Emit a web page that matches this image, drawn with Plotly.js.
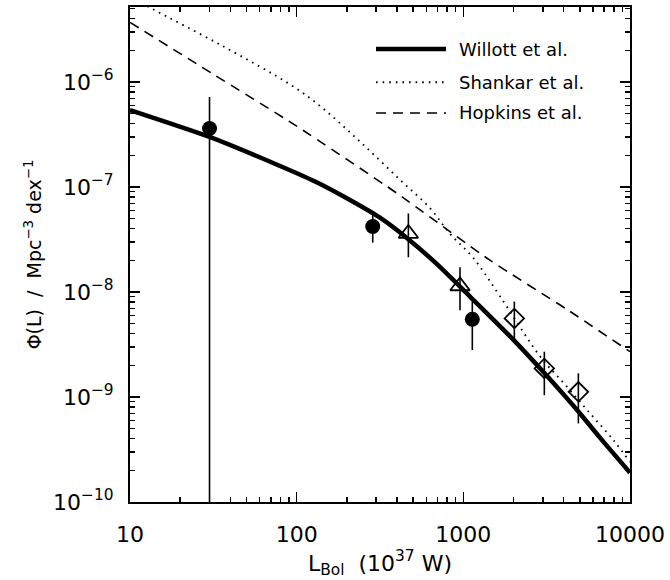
<!DOCTYPE html>
<html>
<head>
<meta charset="utf-8">
<script src="https://cdn.plot.ly/plotly-3.0.1.min.js"></script>
<style>
  html, body { margin: 0; padding: 0; background: #fff; }
  #chart { width: 670px; height: 580px; }
</style>
</head>
<body>
<div id="chart"></div>
<script>
// Bolometric luminosity function: model curves
var willottL   = [10, 30, 77, 130, 200, 316, 466, 700, 1100, 2000, 3160, 5000, 6600, 10000];
var willottPhi = [5.4e-7, 3.0e-7, 1.62e-7, 1.12e-7, 7.8e-8, 5.1e-8, 3.2e-8, 1.82e-8, 9.0e-9, 3.5e-9, 1.6e-9, 7.0e-10, 4.1e-10, 1.9e-10];

var shankarL   = [10, 13.5, 35, 93, 140, 240, 417, 630, 830, 1150, 1660, 2880, 4170, 5750, 7940, 10000];
var shankarPhi = [6.5e-6, 5.0e-6, 2.25e-6, 9.3e-7, 5.8e-7, 2.7e-7, 1.17e-7, 6.3e-8, 3.6e-8, 2.1e-8, 9.1e-9, 2.45e-9, 1.26e-9, 7.0e-10, 3.9e-10, 2.4e-10];

var hopkinsL   = [10, 32, 100, 400, 1450, 4200, 10000];
var hopkinsPhi = [3.7e-6, 1.17e-6, 3.8e-7, 8.7e-8, 2.0e-8, 6.8e-9, 2.7e-9];

// Measured space densities
var circleL     = [30, 286, 1132];
var circlePhi   = [3.6e-7, 4.2e-8, 5.5e-9];
var circleErrHi = [3.6e-7, 1.25e-8, 2.6e-9];
var circleErrLo = [3.6e-7, 1.25e-8, 2.7e-9];

var triangleL     = [468, 955];
var trianglePhi   = [3.6e-8, 1.14e-8];
var triangleErrHi = [2.0e-8, 5.8e-9];
var triangleErrLo = [1.46e-8, 4.7e-9];

var diamondL     = [2023, 3062, 4900];
var diamondPhi   = [5.6e-9, 1.87e-9, 1.12e-9];
var diamondErrHi = [2.5e-9, 0.83e-9, 0.56e-9];
var diamondErrLo = [2.1e-9, 0.83e-9, 0.56e-9];

// Axis ticks
var xTickVals = [10, 100, 1000, 10000];
var xTickText = ['10', '100', '1000', '10000'];
var yTickVals = [1e-10, 1e-9, 1e-8, 1e-7, 1e-6];
var yTickText = ['10<sup>\u221210</sup>', '10<sup>\u22129</sup>', '10<sup>\u22128</sup>', '10<sup>\u22127</sup>', '10<sup>\u22126</sup>'];

var legendNames = ['Willott et al.', 'Shankar et al.', 'Hopkins et al.'];

function minorLogTicks(lo, hi) {
  var v = [];
  for (var e = lo; e < hi; e++) {
    for (var d = 2; d <= 9; d++) v.push(d * Math.pow(10, e));
  }
  return v;
}

var FONT = 'DejaVu Sans, Arial, sans-serif';

function errBar(hi, lo) {
  return { type: 'data', symmetric: false, array: hi, arrayminus: lo,
           color: '#000', thickness: 1.6, width: 0 };
}

var traces = [
  { x: hopkinsL, y: hopkinsPhi, mode: 'lines', name: legendNames[2],
    line: { color: '#000', width: 1.6, dash: '10px,7px', shape: 'spline', smoothing: 0.6 } },
  { x: shankarL, y: shankarPhi, mode: 'lines', name: legendNames[1],
    line: { color: '#000', width: 1.8, dash: '1.6px,5px', shape: 'spline', smoothing: 1 } },
  { x: willottL, y: willottPhi, mode: 'lines', name: legendNames[0],
    line: { color: '#000', width: 4.5, shape: 'spline', smoothing: 0.6 } },
  { x: circleL, y: circlePhi, mode: 'markers', name: 'circles',
    marker: { symbol: 'circle', size: 15, color: '#000' },
    error_y: errBar(circleErrHi, circleErrLo) },
  { x: triangleL, y: trianglePhi, mode: 'markers', name: 'triangles',
    marker: { symbol: 'triangle-up-open', size: 17, color: '#000', line: { width: 1.8, color: '#000' } },
    error_y: errBar(triangleErrHi, triangleErrLo) },
  { x: diamondL, y: diamondPhi, mode: 'markers', name: 'diamonds',
    marker: { symbol: 'diamond-open', size: 15, color: '#000', line: { width: 1.8, color: '#000' } },
    error_y: errBar(diamondErrHi, diamondErrLo) }
];

// Legend drawn as line samples with labels in the upper right
var legendRows = [0.915, 0.848, 0.786];
var legendStyles = [
  { width: 4.5, dash: 'solid' },
  { width: 1.8, dash: '1.6px,5px' },
  { width: 1.6, dash: '10px,7px' }
];
var shapes = [];
var annotations = [];
legendNames.forEach(function (name, i) {
  shapes.push({ type: 'line', xref: 'paper', yref: 'paper',
    x0: 0.492, x1: 0.632, y0: legendRows[i], y1: legendRows[i],
    line: { color: '#000', width: legendStyles[i].width, dash: legendStyles[i].dash } });
  annotations.push({ xref: 'paper', yref: 'paper', x: 0.654, y: legendRows[i],
    xanchor: 'left', yanchor: 'middle', showarrow: false, text: name,
    font: { family: FONT, size: 18, color: '#000' } });
});

var axisCommon = {
  type: 'log', showgrid: false, zeroline: false, showline: true,
  linecolor: '#000', linewidth: 2, mirror: 'allticks',
  ticks: 'inside', ticklen: 10, tickwidth: 1.6, tickcolor: '#000',
  tickmode: 'array', tickfont: { family: FONT, size: 22, color: '#000' }
};

var layout = {
  width: 670, height: 580,
  margin: { l: 130, r: 40, t: 7, b: 78 },
  paper_bgcolor: '#fff', plot_bgcolor: '#fff',
  showlegend: false,
  xaxis: Object.assign({}, axisCommon, {
    range: [1, 4],
    tickvals: xTickVals, ticktext: xTickText,
    ticklabelstandoff: 12,
    minor: { tickmode: 'array', tickvals: minorLogTicks(1, 4), ticks: 'inside',
             ticklen: 5, tickwidth: 1.4, tickcolor: '#000', showgrid: false },
    title: { text: 'L<sub>Bol</sub>  (10<sup>37</sup> W)', standoff: 4,
             font: { family: FONT, size: 22, color: '#000' } }
  }),
  yaxis: Object.assign({}, axisCommon, {
    range: [-10, -5.286],
    tickvals: yTickVals, ticktext: yTickText,
    ticklabelstandoff: 10,
    minor: { tickmode: 'array', tickvals: minorLogTicks(-10, -5), ticks: 'inside',
             ticklen: 5, tickwidth: 1.4, tickcolor: '#000', showgrid: false },
    title: { text: '\u03a6(L)\u00a0\u00a0/\u00a0\u00a0Mpc<sup>\u22123</sup> dex<sup>\u22121</sup>', standoff: 6,
             font: { family: FONT, size: 19, color: '#000' } }
  }),
  shapes: shapes,
  annotations: annotations
};

Plotly.newPlot('chart', traces, layout, { displayModeBar: false, staticPlot: true });
</script>
</body>
</html>
